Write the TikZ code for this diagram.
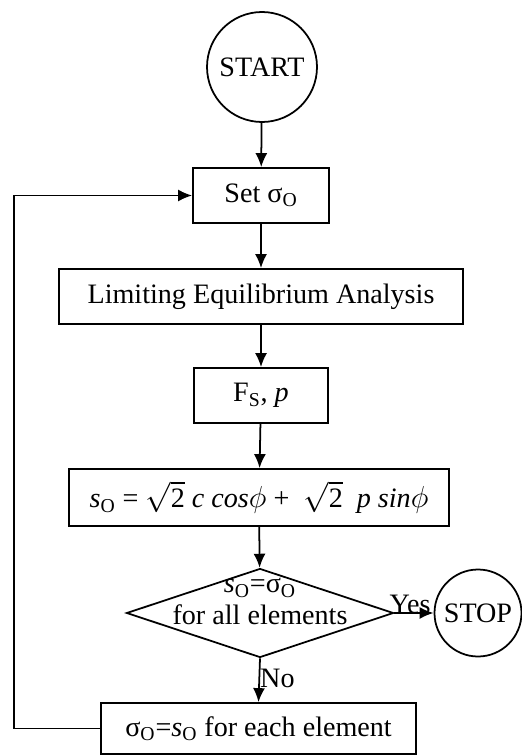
\documentclass[tikz,border=0pt]{standalone}
\usepackage{fontspec}
\setmainfont{Liberation Serif}
\usetikzlibrary{shapes.geometric,arrows.meta}

\newcommand{\sgo}{σ\textsubscript{O}}
\newcommand{\eso}{\textit{s}\textsubscript{O}}
% text that does not widen the node round it
\newcommand{\flattxt}[1]{\smash{\makebox[0pt]{\raisebox{2pt}{\begin{tabular}{@{}c@{}}#1\end{tabular}}}}}

\begin{document}
\begin{tikzpicture}[
    font=\fontsize{16}{19}\selectfont,
    box/.style={rectangle, draw, line width=1pt, minimum height=1.1cm,
                inner sep=2pt, align=center},
    term/.style={circle, draw, line width=1pt, inner sep=0pt},
    decide/.style={diamond, draw, line width=1pt, inner sep=0pt,
                   minimum width=5.34cm, minimum height=1.78cm},
    arrow/.style={-{Latex[length=2.8mm,width=2.4mm]}, line width=1pt},
    lbl/.style={inner sep=1pt}
  ]
    \useasboundingbox (0,0) rectangle (10.42,-15.1);

    \node[term, minimum size=2.2cm]   (start) at (5.24, -1.34)  {START};
    \node[box, minimum width=2.72cm]  (set)   at (5.22, -3.91)  {Set \sgo};
    \node[box, minimum width=8.08cm]  (lea)   at (5.22, -5.93)  {Limiting Equilibrium Analysis};
    \node[box, minimum width=2.68cm]  (fs)    at (5.22, -7.91)  {F\textsubscript{S}, \textit{p}};
    \node[box, minimum width=7.6cm, minimum height=1.14cm]
                                      (form)  at (5.18, -9.95)
      {\eso{} = $\sqrt{\mbox{2}}$ \textit{c cos}$\phi$ +\enspace$\sqrt{\mbox{2}}$\enspace\textit{p sin}$\phi$};
    \node[decide]                     (dec)   at (5.2, -12.26)
      {\flattxt{\eso=\sgo\\[-1pt]for all elements}};
    \node[term, minimum size=1.74cm]  (stop)  at (9.56, -12.26) {STOP};
    \node[box, minimum width=6.3cm, minimum height=1.02cm]
                                      (upd)   at (5.17, -14.57) {\sgo=\eso{} for each element};
    \coordinate (back) at (0.28, -3.91);

    \draw[arrow] (start) -- (set);
    \draw[arrow] (set)   -- (lea);
    \draw[arrow] (lea)   -- (fs);
    \draw[arrow] (fs)    -- (form);
    \draw[arrow] (form)  -- (dec);
    \draw[arrow] (dec.east)  -- node[lbl, pos=0.4, above=-2pt]{Yes} (stop.west);
    \draw[arrow] (dec.south) -- node[lbl, right=-1pt, pos=0.45]{No} (upd.north);
    \draw[arrow] (upd.west) -| (back) -- (set.west);
  \end{tikzpicture}
\end{document}
